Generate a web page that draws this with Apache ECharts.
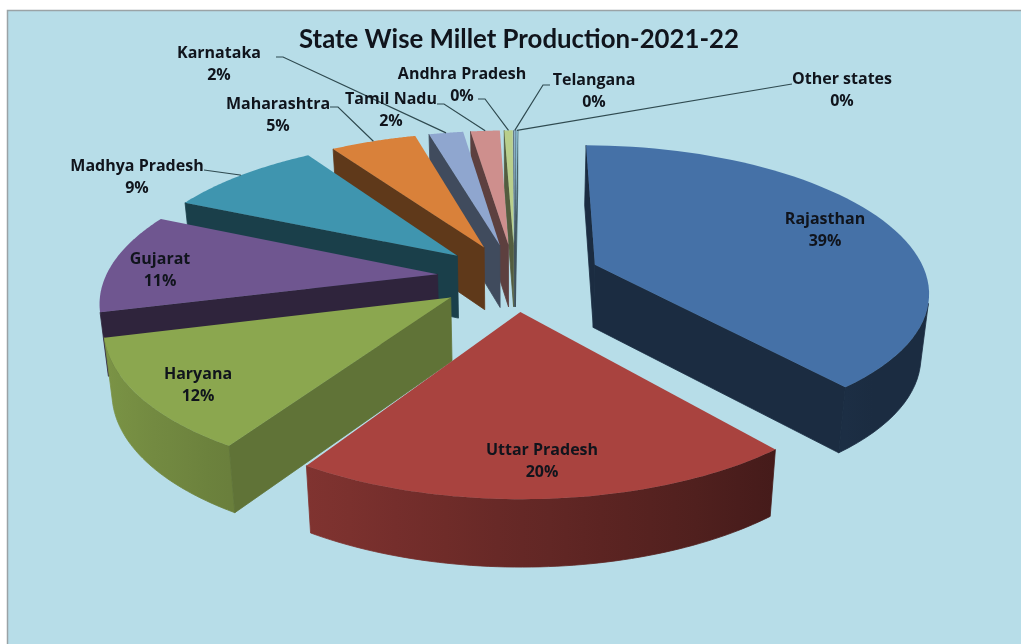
<!DOCTYPE html>
<html>
<head>
<meta charset="utf-8">
<style>html,body{margin:0;padding:0;background:#fff}#chart{width:1021px;height:644px}</style>
<script src="https://cdn.jsdelivr.net/npm/echarts@6/dist/echarts.min.js"></script>
</head>
<body>
<div id="chart"></div>
<script>
// Production share by state, per cent
const states = ['Rajasthan','Uttar Pradesh','Haryana','Gujarat','Madhya Pradesh','Maharashtra','Karnataka','Tamil Nadu','Andhra Pradesh','Telangana','Other states'];
const shares = [39, 20, 12, 11, 9, 5, 2, 1.7, 0.49, 0.1, 0.1];
const topColors = ['#4571A7','#A9433F','#8BA74F','#6F5690','#3F95AF','#D9813A','#8FA6CF','#CE8F8D','#B9CF8C','#8DB4CC','#8FC5D8'];

// Tone of the cut faces relative to the top colour
const cutTone = [0.39, 0.40, 0.69, 0.42, 0.42, 0.44, 0.45, 0.45, 0.45, 0.45, 0.45];

// Label placement on the page; leader starts are the elbows next to the text
const labelSpots = [[825,230],[542,461],[198,385],[160,270],[137,177],[278,115],[219,64],[391,110],[462,85],[594,91],[842,90]];
const leaderStarts = [null,null,null,null,[[204,170],[240,175]],[[330,107],[338,107]],[[276,57],[283,57]],[[437,104],[444,104]],[[478,99],[485,99]],[[550,85],[543,85]],[[792,84],[786,85]]];

// Pie geometry: a tilted disc seen in perspective, with every slice pulled out
const cx = 515, cy = 277, tilt = 0.431, persp = 0.0005;
const radius = 332, startDeg = 0.5, thickness = 63;
const pulls = [86, 78, 78, 78, 78, 78, 78, 78, 78, 78, 78];

const total = shares.reduce((a, b) => a + b, 0);
const starts = [];
shares.reduce((acc, v, i) => { starts[i] = acc; return acc + v; }, 0);
const toDeg = v => v / total * 360;

function onTop(X, Y) {
  const w = 1 - persp * Y;
  return [cx + X / w, cy + tilt * Y / w, w];
}
function below(X, Y) {
  const p = onTop(X, Y);
  return [cx + (p[0] - cx) * 0.98, p[1] + thickness * Math.pow(p[2], -0.33)];
}
function sliceFrame(i) {
  const a0 = startDeg + toDeg(starts[i]);
  const a1 = a0 + toDeg(shares[i]);
  const mid = (a0 + a1) / 2 * Math.PI / 180;
  return { a0, a1, ox: pulls[i] * Math.sin(mid), oy: -pulls[i] * Math.cos(mid) };
}
function rim(f, deg) {
  const t = deg * Math.PI / 180;
  return [f.ox + radius * Math.sin(t), f.oy - radius * Math.cos(t)];
}
function shade(hex, k) {
  const n = parseInt(hex.slice(1), 16);
  const c = [n >> 16 & 255, n >> 8 & 255, n & 255].map(v => Math.round(v * k));
  return 'rgb(' + c.join(',') + ')';
}
function signedArea(pts) {
  let s = 0;
  pts.forEach((p, j) => { const q = pts[(j + 1) % pts.length]; s += p[0] * q[1] - q[0] * p[1]; });
  return s;
}
function poly(points, fill, edged) {
  const style = edged ? { fill, stroke: fill, lineWidth: 0.8 } : { fill };
  return { type: 'polygon', shape: { points }, style, silent: true };
}
// Outer wall as one shape, shaded across its width with the light from the left
function outerWall(f, base, angles) {
  const seen = [];
  for (let j = 0; j < angles.length - 1; j++) {
    const r0 = rim(f, angles[j]), r1 = rim(f, angles[j + 1]);
    const quad = [onTop(r0[0], r0[1]).slice(0, 2), onTop(r1[0], r1[1]).slice(0, 2), below(r1[0], r1[1]), below(r0[0], r0[1])];
    if (signedArea(quad) < 0) {
      if (!seen.length || seen[seen.length - 1] !== angles[j]) seen.push(angles[j]);
      seen.push(angles[j + 1]);
    }
  }
  if (seen.length < 2) return null;
  const up = seen.map(a => { const r = rim(f, a); return onTop(r[0], r[1]).slice(0, 2); });
  const down = seen.map(a => { const r = rim(f, a); return below(r[0], r[1]); }).reverse();
  const xs = up.map(p => p[0]);
  const xMin = Math.min.apply(null, xs), xMax = Math.max.apply(null, xs);
  const span = Math.max(xMax - xMin, 1);
  const stops = [];
  seen.forEach((a, j) => {
    if (j % 6 && j !== seen.length - 1) return;
    const tone = Math.max(0.39, 0.6 - 0.3 * Math.sin(a * Math.PI / 180));
    stops.push({ at: (xs[j] - xMin) / span, tone });
  });
  stops.sort((p, q) => p.at - q.at);
  const fill = {
    type: 'linear', global: true, x: xMin, y: 0, x2: xMax, y2: 0,
    colorStops: stops.map(s => ({ offset: s.at, color: shade(base, s.tone) }))
  };
  return poly(up.concat(down), fill, true);
}
function drawSlice(params, api) {
  const i = api.value(0);
  const f = sliceFrame(i);
  const base = topColors[i];
  const children = [];
  const step = Math.max((f.a1 - f.a0) / 60, 0.05);
  const angles = [];
  for (let a = f.a0; a < f.a1; a += step) angles.push(a);
  angles.push(f.a1);

  const wall = outerWall(f, base, angles);
  if (wall) children.push(wall);

  // the two straight cut faces, only those turned towards the viewer
  const apexT = onTop(f.ox, f.oy).slice(0, 2), apexB = below(f.ox, f.oy);
  [[f.a0, -1], [f.a1, 1]].forEach(([deg, sign]) => {
    const r = rim(f, deg);
    const quad = [apexT, onTop(r[0], r[1]).slice(0, 2), below(r[0], r[1]), apexB];
    if (signedArea(quad) * sign > 0) children.push(poly(quad, shade(base, cutTone[i]), true));
  });

  // top face
  const face = [apexT].concat(angles.map(a => { const r = rim(f, a); return onTop(r[0], r[1]).slice(0, 2); }));
  children.push(poly(face, base));
  return { type: 'group', children };
}
function drawLabel(params, api) {
  const i = api.value(0);
  const children = [];
  if (leaderStarts[i]) {
    const f = sliceFrame(i);
    const r = rim(f, (f.a0 + f.a1) / 2);
    const end = onTop(r[0], r[1]).slice(0, 2);
    children.push({
      type: 'polyline', silent: true,
      shape: { points: leaderStarts[i].concat([end]) },
      style: { fill: 'none', stroke: '#2f4a50', lineWidth: 1.2 }
    });
  }
  children.push({
    type: 'text', silent: true,
    style: {
      x: labelSpots[i][0], y: labelSpots[i][1],
      text: states[i] + '\n' + Math.round(api.value(1)) + '%',
      font: '700 16px "Open Sans"', fill: '#10141c',
      align: 'center', verticalAlign: 'middle', lineHeight: 22
    }
  });
  return { type: 'group', children };
}

// Rows in back-to-front drawing order
const rows = shares.map((v, i) => [i, v]);
const backToFront = rows.slice().reverse();

const chart = echarts.init(document.getElementById('chart'), null, { renderer: 'canvas' });
chart.setOption({
  animation: false,
  backgroundColor: '#ffffff',
  title: {
    text: 'State Wise Millet Production-2021-22',
    left: 514, top: 22, textAlign: 'center',
    textStyle: { fontFamily: 'Lato', fontWeight: 700, fontSize: 25.8, color: '#10141c' }
  },
  graphic: [
    { type: 'rect', z: -10, silent: true, shape: { x: 7, y: 10, width: 1014, height: 634 }, style: { fill: '#B7DDE8' } },
    { type: 'polyline', z: -9, silent: true, shape: { points: [[7.5, 644], [7.5, 10.5], [1021, 10.5]] }, style: { fill: 'none', stroke: '#9aa3a6', lineWidth: 1.5 } }
  ],
  series: [
    { type: 'custom', coordinateSystem: 'none', renderItem: drawSlice, data: backToFront, z: 2, clip: false, silent: true },
    { type: 'custom', coordinateSystem: 'none', renderItem: drawLabel, data: rows, z: 3, clip: false, silent: true }
  ]
});
</script>
</body>
</html>
